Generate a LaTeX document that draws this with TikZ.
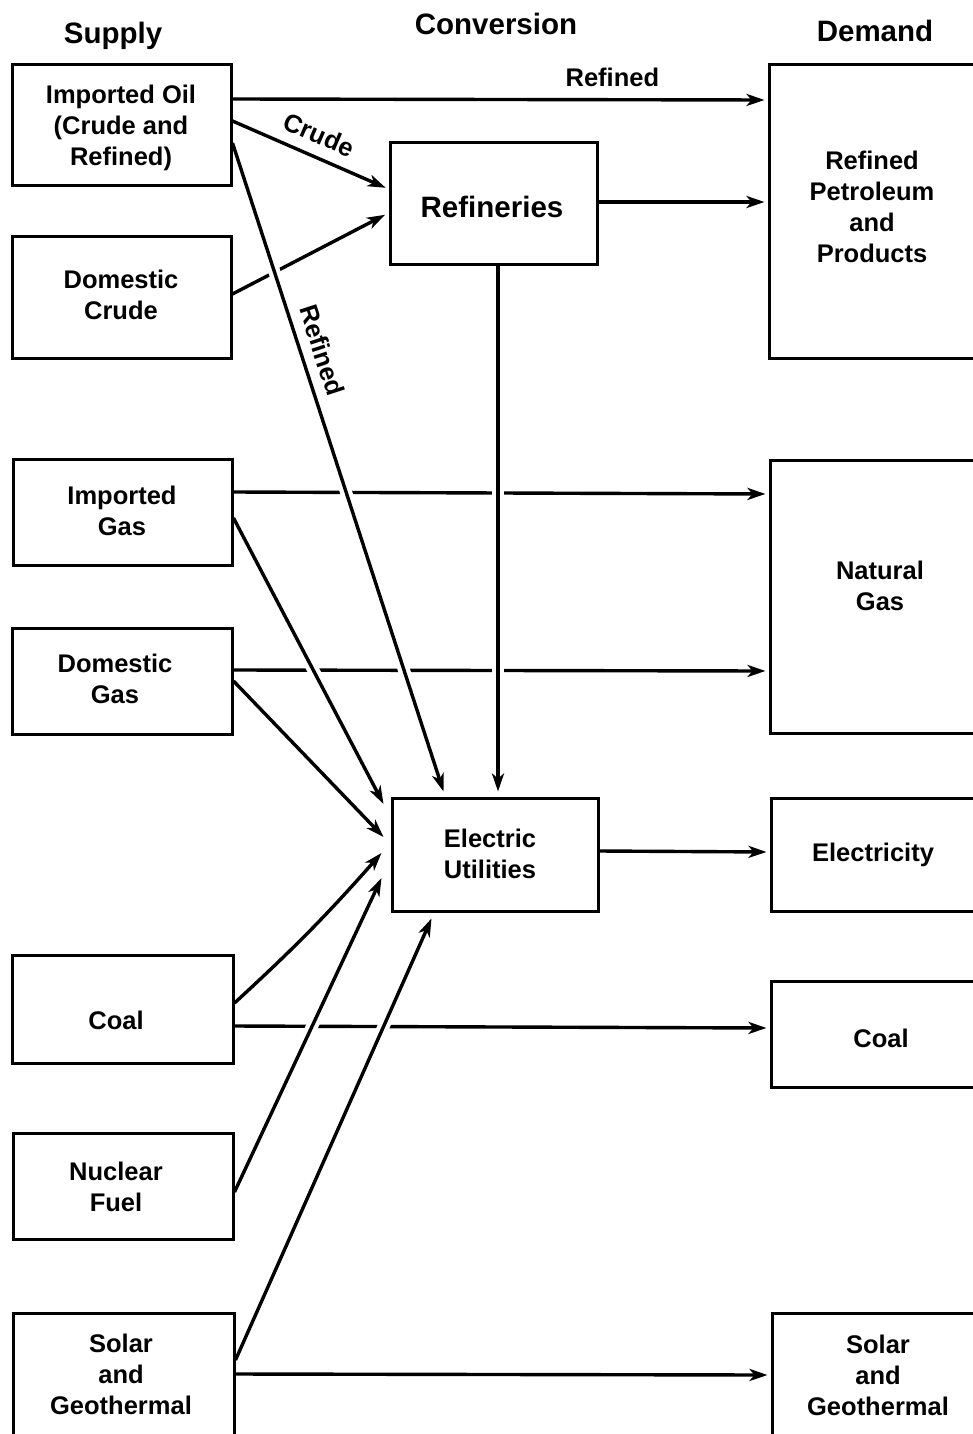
\documentclass[tikz,border=0pt]{standalone}
\usepackage{fontspec}
\setmainfont{Liberation Sans}
\usetikzlibrary{arrows.meta}
\begin{document}
\begin{tikzpicture}[x=1pt,y=-1pt,
  lbl/.style={font=\bfseries\fontsize{25.5}{31}\selectfont, align=center, inner sep=0pt},
  head/.style={font=\bfseries\fontsize{29.5}{35}\selectfont, anchor=base, inner sep=0pt},
  box/.style n args={2}{draw, line width=3pt, inner sep=0pt, minimum width=#1pt, minimum height=#2pt},
  flow/.style={line width=3.4pt, -{Stealth[length=18pt,width=12pt,inset=5pt]}, shorten >=3pt},
  over/.style={preaction={draw=white, line width=12pt, -, shorten <=25pt, shorten >=25pt}},
  tag/.style={lbl, sloped},
]
\useasboundingbox (0,0) rectangle (973,1434);
\clip (0,0) rectangle (973,1434);
\fill[white] (0,0) rectangle (973,1434);

% column headings
\node[head] (h-sup) at (113,44) {Supply};
\node[head] (h-con) at (496,35) {Conversion};
\node[head] (h-dem) at (875,42) {Demand};

% supply boxes
\node[box={219}{121}] (io) at (121.5,125.5) {};
\node[box={219}{122}] (dc) at (121.5,297) {};
\node[box={219}{106}] (ig) at (122.5,512) {};
\node[box={220}{106}] (dg) at (122,681) {};
\node[box={221}{108}] (co) at (122.5,1009) {};
\node[box={220}{106}] (nf) at (123,1186) {};
\node[box={221}{122}] (sg) at (123.5,1374) {};
% conversion boxes
\node[box={207}{121}] (rf) at (493.5,203.5) {};
\node[box={206}{113}] (eu) at (495,854.5) {};
% demand boxes
\node[box={212}{293}] (rp) at (875,211.5) {};
\node[box={220}{273}] (ng) at (880,596.5) {};
\node[box={210}{113}] (el) at (876,854.5) {};
\node[box={220}{106}] (cd) at (881,1034) {};
\node[box={212}{124}] (sd) at (878,1375) {};

% box texts
\node[lbl] (io-t) at (121,127.5) {Imported Oil\\(Crude and\\Refined)};
\node[lbl] (dc-t) at (121,294.5) {Domestic\\Crude};
\node[lbl] (ig-t) at (122,510.5) {Imported\\Gas};
\node[lbl] (dg-t) at (115,678.5) {Domestic\\Gas};
\node[lbl] (co-t) at (116,1020) {Coal};
\node[lbl] (nf-t) at (116,1187) {Nuclear\\Fuel};
\node[lbl] (sg-t) at (121,1374) {Solar\\and\\Geothermal};
\node[lbl, font=\bfseries\fontsize{29.5}{35}\selectfont] (rf-t) at (492,207) {Refineries};
\node[lbl] (eu-t) at (490,853.5) {Electric\\Utilities};
\node[lbl] (rp-t) at (872,206.5) {Refined\\Petroleum\\and\\Products};
\node[lbl] (ng-t) at (880,585.5) {Natural\\Gas};
\node[lbl] (el-t) at (873,855) {Electricity};
\node[lbl] (cd-t) at (881,1038) {Coal};
\node[lbl] (sd-t) at (878,1375.5) {Solar\\and\\Geothermal};

% flows that are crossed by others
\draw[flow] (io.east |- 0,99) -- node[lbl, pos=0.71, above=11pt] (lb-ref) {Refined} (rp.west |- 0,100);
\draw[flow] (io.east |- 0,121) -- node[tag, pos=0.5, above=11pt] (lb-crude) {Crude} (rf.west |- 0,189);
\draw[flow, shorten >=4pt] (dc.east |- 0,294) -- (rf.west |- 0,213);
\draw[flow] (rf.east |- 0,202) -- (rp.west |- 0,202);
\draw[flow] (ig.east |- 0,492) -- (ng.west |- 0,494);
\draw[flow] (dg.east |- 0,670) -- (ng.west |- 0,671);
\draw[flow, shorten >=0pt] (dg.east |- 0,681) -- ([shift={(-7,-17.5)}]eu.west);
\draw[flow] (eu.east |- 0,851) -- (el.west |- 0,852);
\draw[flow, shorten >=0pt] (co.east |- 0,1003) to[bend right=3] ([shift={(-9,-1.5)}]eu.west);
\draw[flow] (co.east |- 0,1026) -- (cd.west |- 0,1028);
\draw[flow] (sg.east |- 0,1374) -- (sd.west |- 0,1375);

% flows drawn over the others, leaving gaps where they cross
\draw[flow, over, shorten >=0pt] (io.east |- 0,143) -- node[tag, pos=0.33, above=10pt] (lb-ref2) {Refined} ([shift={(53,-5)}]eu.north west);
\draw[flow, over, shorten >=5pt] (rf.south -| 498,0) -- (eu.north -| 498,0);
\draw[flow, over, shorten >=0pt] (ig.east |- 0,518) -- ([shift={(-7,7.5)}]eu.north west);
\draw[flow, over, shorten >=0pt] (nf.east |- 0,1192) -- ([shift={(-9,23.5)}]eu.west);
\draw[flow, over, shorten >=0pt] (sg.east |- 0,1360) -- ([shift={(41,6)}]eu.south west);
\end{tikzpicture}
\end{document}
